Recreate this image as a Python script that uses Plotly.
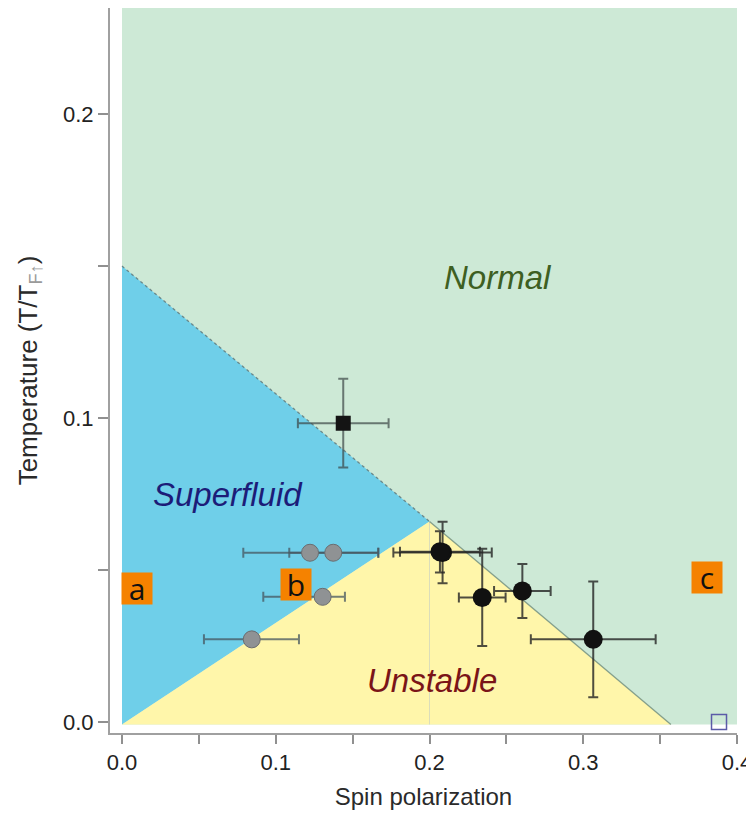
import plotly.graph_objects as go

# ---- data ----
# phase regions (spin polarization, T/TF)
normal_x = [0.0, 0.4, 0.4, 0.0]
normal_y = [-0.0008, -0.0008, 0.2349, 0.2349]
superfluid_x = [0.0, 0.0, 0.2]
superfluid_y = [-0.0008, 0.15, 0.066]
unstable_x = [0.0, 0.2, 0.357]
unstable_y = [-0.0008, 0.066, -0.0008]
first_order_x = [0.0, 0.2]
first_order_y = [0.15, 0.066]
upper_line_x = [0.2, 0.357]
upper_line_y = [0.066, -0.0008]
tc_x = [0.2, 0.2]
tc_y = [-0.0008, 0.066]

# measured points
sf_x = [0.1223, 0.1374, 0.1305, 0.0844]
sf_y = [0.0557, 0.0557, 0.0412, 0.0272]
sf_xerr_plus = [0.0444, 0.0293, 0.0145, 0.0307]
sf_xerr_minus = [0.0434, 0.0286, 0.0386, 0.0311]

tri_x = [0.1439]
tri_y = [0.0983]
tri_xerr = [0.0295]
tri_yerr = [0.0146]

n_x = [0.2085, 0.2068, 0.2343, 0.2604, 0.3065]
n_y = [0.0558, 0.0560, 0.0410, 0.0431, 0.0272]
n_xerr = [0.0320, 0.0260, 0.0152, 0.0184, 0.0406]
n_yerr = [0.0101, 0.0068, 0.0160, 0.0089, 0.0190]

open_x = [0.3883]
open_y = [0.0]

region_labels = ["Normal", "Superfluid", "Unstable"]
region_label_x = [0.2448, 0.0690, 0.2014]
region_label_y = [0.1462, 0.0750, 0.0136]
region_label_colors = ["#3e5f22", "#1c1c78", "#7a1418"]

panel_labels = ["a", "b", "c"]
panel_x = [0.0096, 0.1133, 0.3804]
panel_y = [0.0438, 0.0454, 0.0475]

x_ticks = [0.0, 0.1, 0.2, 0.3, 0.4]
y_ticks = [0.0, 0.1, 0.2]

fig = go.Figure()

fig.add_trace(go.Scatter(x=normal_x, y=normal_y, fill="toself", mode="none",
                         fillcolor="#cde9d6", hoverinfo="skip", showlegend=False))
fig.add_trace(go.Scatter(x=superfluid_x, y=superfluid_y, fill="toself", mode="none",
                         fillcolor="#6fcfe9", hoverinfo="skip", showlegend=False))
fig.add_trace(go.Scatter(x=unstable_x, y=unstable_y, fill="toself", mode="none",
                         fillcolor="#fff6aa", hoverinfo="skip", showlegend=False))
fig.add_trace(go.Scatter(x=tc_x, y=tc_y, mode="lines",
                         line=dict(color="rgba(210,215,190,0.8)", width=1),
                         hoverinfo="skip", showlegend=False))
fig.add_trace(go.Scatter(x=first_order_x, y=first_order_y, mode="lines",
                         line=dict(color="rgba(90,110,110,0.75)", width=1.3, dash="dot"),
                         hoverinfo="skip", showlegend=False))
fig.add_trace(go.Scatter(x=upper_line_x, y=upper_line_y, mode="lines",
                         line=dict(color="rgba(110,140,125,0.8)", width=1.3),
                         hoverinfo="skip", showlegend=False))

# superfluid (gray) points
fig.add_trace(go.Scatter(
    x=sf_x, y=sf_y, mode="markers",
    marker=dict(size=17, color="#8f9294", line=dict(color="#6a6d70", width=1)),
    error_x=dict(type="data", array=sf_xerr_plus, arrayminus=sf_xerr_minus,
                 color="rgba(70,85,95,0.75)", thickness=2, width=5),
    showlegend=False))

# square point
fig.add_trace(go.Scatter(
    x=tri_x, y=tri_y, mode="markers",
    marker=dict(size=15, symbol="square", color="#141414"),
    error_x=dict(type="data", array=tri_xerr, color="rgba(60,70,70,0.7)", thickness=2, width=5),
    error_y=dict(type="data", array=tri_yerr, color="rgba(60,70,70,0.7)", thickness=2, width=5),
    showlegend=False))

# normal (black) points
fig.add_trace(go.Scatter(
    x=n_x, y=n_y, mode="markers",
    marker=dict(size=19, color="#111111"),
    error_x=dict(type="data", array=n_xerr, color="rgba(35,35,35,0.8)", thickness=2, width=5),
    error_y=dict(type="data", array=n_yerr, color="rgba(35,35,35,0.8)", thickness=2, width=5),
    showlegend=False))

# open square
fig.add_trace(go.Scatter(
    x=open_x, y=open_y, mode="markers",
    marker=dict(size=15, symbol="square-open", color="#5b5ba8", line=dict(width=1.5)),
    showlegend=False))

for t, x, y, c in zip(region_labels, region_label_x, region_label_y, region_label_colors):
    fig.add_annotation(x=x, y=y, text="<i>%s</i>" % t, showarrow=False,
                       font=dict(family="Liberation Sans", size=33, color=c))

for t, x, y in zip(panel_labels, panel_x, panel_y):
    fig.add_annotation(x=x, y=y, text=t, showarrow=False, bgcolor="#f58200",
                       width=30, height=31, borderpad=0,
                       font=dict(family="Open Sans", size=30, color="#111111"))

fig.update_layout(
    width=746, height=809,
    margin=dict(l=102, r=17, t=0, b=84),
    paper_bgcolor="white", plot_bgcolor="white",
    font=dict(family="Liberation Sans", color="#222222"),
    xaxis=dict(range=[-0.0078, 0.4], tickvals=x_ticks, tickformat=".1f",
               showgrid=False, zeroline=False, showline=True, linecolor="#a0a0a0",
               linewidth=2, ticks="outside", ticklen=9, tickwidth=2, tickcolor="#909090",
               minor=dict(tickvals=[0.05, 0.15, 0.25, 0.35], ticks="outside", ticklen=9,
                          tickwidth=2, tickcolor="#909090"),
               tickfont=dict(size=22, color="#222222"),
               title=dict(text="Spin polarization", font=dict(size=24, color="#2a2a2a"),
                          standoff=14)),
    yaxis=dict(range=[-0.0036, 0.2349], tickvals=y_ticks, tickformat=".1f",
               showgrid=False, zeroline=False, showline=True, linecolor="#a0a0a0",
               linewidth=2, ticks="outside", ticklen=10, tickwidth=2, tickcolor="#909090",
               minor=dict(tickvals=[0.05, 0.15], ticks="outside", ticklen=10,
                          tickwidth=2, tickcolor="#909090"),
               tickfont=dict(size=22, color="#222222"),
               title=dict(text="Temperature (T/T<sub><span style='color:#9a9a9a'>F↑</span></sub>)",
                          font=dict(size=26, color="#2a2a2a"), standoff=18)),
)

fig.write_html("out.html")
